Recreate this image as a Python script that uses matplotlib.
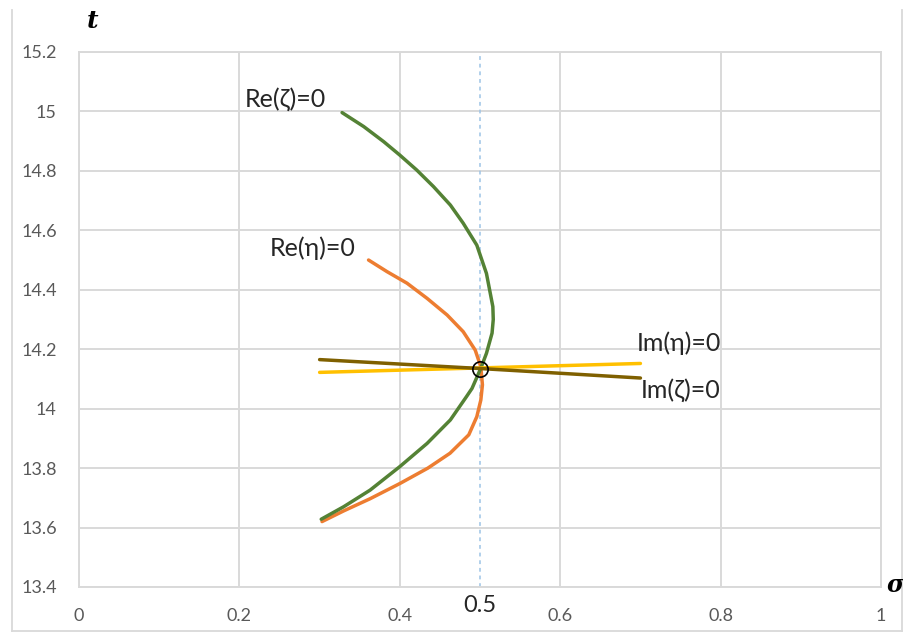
import numpy as np
import matplotlib.pyplot as plt
from matplotlib.lines import Line2D

# values
re_zeta_sigma = [0.328, 0.355, 0.380, 0.400, 0.421, 0.442, 0.463, 0.479, 0.496, 0.508, 0.516, 0.5165,
                 0.515, 0.508, 0.501, 0.490, 0.483, 0.463, 0.434, 0.400, 0.363, 0.330, 0.302]
re_zeta_t = [14.996, 14.949, 14.898, 14.853, 14.803, 14.747, 14.685, 14.624, 14.550, 14.455, 14.343, 14.300,
             14.254, 14.186, 14.136, 14.068, 14.040, 13.962, 13.883, 13.805, 13.726, 13.670, 13.628]

re_eta_sigma = [0.361, 0.384, 0.409, 0.434, 0.459, 0.479, 0.494, 0.501, 0.503, 0.501, 0.496,
                0.486, 0.4626, 0.435, 0.400, 0.363, 0.330, 0.303]
re_eta_t = [14.500, 14.461, 14.422, 14.371, 14.315, 14.259, 14.197, 14.141, 14.080, 14.029, 13.973,
            13.912, 13.850, 13.800, 13.748, 13.697, 13.656, 13.620]

im_zeta_sigma = [0.3, 0.5, 0.7]
im_zeta_t = [14.165, 14.135, 14.103]

im_eta_sigma = [0.3, 0.5, 0.7]
im_eta_t = [14.122, 14.137, 14.152]

zero_sigma = [0.5]
zero_t = [14.1347]

x_ticks = [0, 0.2, 0.4, 0.6, 0.8, 1]
x_labels = ["0", "0.2", "0.4", "0.6", "0.8", "1"]
y_ticks = [13.4, 13.6, 13.8, 14, 14.2, 14.4, 14.6, 14.8, 15, 15.2]
y_labels = ["13.4", "13.6", "13.8", "14", "14.2", "14.4", "14.6", "14.8", "15", "15.2"]

txt_font = ["Lato", "DejaVu Sans"]
grid_col = "#d9d9d9"

fig = plt.figure(figsize=(9.04, 6.33), dpi=100)
ax = fig.add_axes([0.0874, 0.0727, 0.8872, 0.8452])

# outer chart frame (left, right, bottom edges)
W, H = 904, 633
for (x0, y0, x1, y1) in [(12, 10, 12, 631), (902, 10, 902, 631), (12, 631, 902, 631)]:
    fig.lines.append(Line2D([x0 / W, x1 / W], [1 - y0 / H, 1 - y1 / H],
                            transform=fig.transFigure, color=grid_col, linewidth=1.3))

ax.set_xlim(0, 1)
ax.set_ylim(13.4, 15.2)
ax.set_xticks(x_ticks)
ax.set_xticklabels(x_labels)
ax.set_yticks(y_ticks)
ax.set_yticklabels(y_labels)
ax.tick_params(length=0, labelsize=13, labelcolor="#595959")
ax.tick_params(axis="y", pad=16)
ax.tick_params(axis="x", pad=15)
for lab in ax.get_xticklabels() + ax.get_yticklabels():
    lab.set_family(txt_font)
ax.grid(True, color=grid_col, linewidth=1.4)
ax.set_axisbelow(True)
for sp in ax.spines.values():
    sp.set_color(grid_col)
    sp.set_linewidth(1.4)

# dashed line at sigma = 1/2
ax.axvline(0.5, color="#9dc3e6", linestyle=(0, (2.5, 2.5)), linewidth=1.1)

ax.plot(re_eta_sigma, re_eta_t, color="#ed7d31", linewidth=2.5, solid_capstyle="round")
ax.plot(re_zeta_sigma, re_zeta_t, color="#548235", linewidth=2.5, solid_capstyle="round")
ax.plot(im_eta_sigma, im_eta_t, color="#ffc000", linewidth=2.5, solid_capstyle="round")
ax.plot(im_zeta_sigma, im_zeta_t, color="#7f6000", linewidth=2.5, solid_capstyle="round")
ax.plot(zero_sigma, zero_t, marker="o", markersize=11, markerfacecolor="none",
        markeredgecolor="black", markeredgewidth=1.2, linestyle="none")

# curve labels
lab_kw = dict(fontsize=18, family=txt_font, color="#262626", va="center")
ax.text(0.207, 15.043, "Re(ζ)=0", **lab_kw)
ax.text(0.238, 14.54, "Re(η)=0", **lab_kw)
ax.text(0.696, 14.22, "Im(η)=0", **lab_kw)
ax.text(0.700, 14.062, "Im(ζ)=0", **lab_kw)

# axis names and the 0.5 mark
fig.text(93 / W, 1 - 21 / H, "t", fontsize=18, family="DejaVu Serif",
         style="italic", weight="bold", ha="center", va="center")
fig.text(904 / W, 1 - 585 / H, "σ", fontsize=17, family="DejaVu Serif",
         style="italic", weight="bold", ha="right", va="center")
fig.text(480 / W, 1 - 605 / H, "0.5", fontsize=17, family=txt_font,
         color="#262626", ha="center", va="center")

fig.savefig("out.png", dpi=100)
